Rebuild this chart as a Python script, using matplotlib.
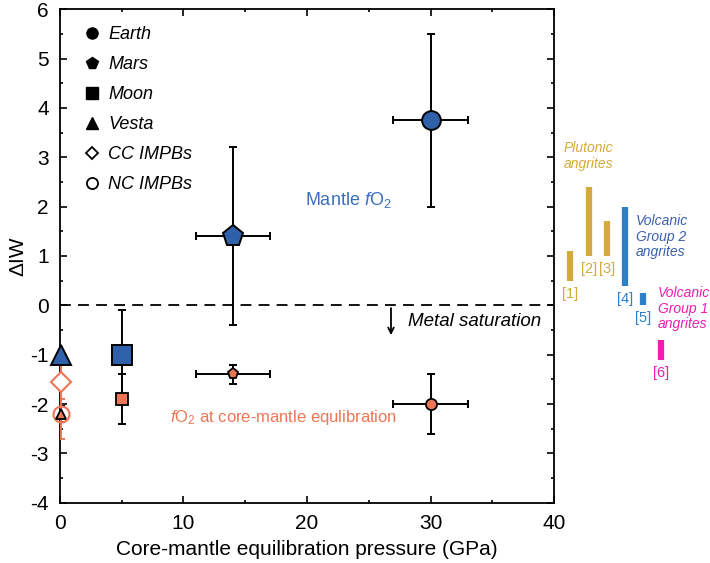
import matplotlib.pyplot as plt
from matplotlib.lines import Line2D

plt.rcParams['font.family'] = ['Liberation Sans', 'DejaVu Sans']
plt.rcParams['mathtext.fontset'] = 'custom'
plt.rcParams['mathtext.rm'] = 'Liberation Sans'
plt.rcParams['mathtext.it'] = 'Liberation Sans:italic'
plt.rcParams['axes.unicode_minus'] = False

# mantle fO2 of the bodies (blue)
bodies = ['Earth', 'Mars', 'Moon', 'Vesta']
body_markers = ['o', 'p', 's', '^']
mantle_p = [30, 14, 5, 0.1]
mantle_iw = [3.75, 1.4, -1.0, -1.0]
mantle_p_err = [3, 3, 0, 0]
mantle_iw_err = [1.75, 1.8, 0.9, 0]

# fO2 at core-mantle equilibration (orange)
cm_p = [30, 14, 5, 0.1]
cm_iw = [-2.0, -1.4, -1.9, -2.2]
cm_p_err = [3, 3, 0, 0]
cm_iw_err = [0.6, 0.2, 0.5, 0.17]

# iron meteorite parent bodies
impb_names = ['CC IMPBs', 'NC IMPBs']
impb_p = [0.1, 0.1]
impb_iw = [-1.55, -2.2]
impb_iw_err = [0.35, 0.5]

# angrite ranges shown right of the axes
angrite_labels = ['[1]', '[2]', '[3]', '[4]', '[5]', '[6]']
angrite_x = [41.3, 42.8, 44.3, 45.75, 47.2, 48.7]
angrite_lo = [0.5, 1.0, 1.0, 0.4, 0.0, -1.1]
angrite_hi = [1.1, 2.4, 1.7, 2.0, 0.25, -0.7]
angrite_group = [0, 0, 0, 1, 1, 2]

blue = '#2f61ab'
orange = '#ee7655'
gold = '#d4aa3a'
vblue = '#2f7fc8'
magenta = '#ee1cb0'
group_cols = [gold, vblue, magenta]

fig = plt.figure(figsize=(7.1, 5.63), dpi=100)
ax = fig.add_axes([0.0845, 0.1071, 0.6958, 0.8764])

ax.axhline(0, color='black', lw=1.3, dashes=(6, 4), zorder=1)

big = [13.5, 15.5, 14, 14]
small = [8, 8, 8.5, 7]
for i in range(4):
    ax.errorbar(mantle_p[i], mantle_iw[i], xerr=mantle_p_err[i] or None,
                yerr=mantle_iw_err[i] or None, fmt='none', ecolor='black',
                elinewidth=1.4, capsize=3, capthick=1.4, zorder=2)
    ax.errorbar(cm_p[i], cm_iw[i], xerr=cm_p_err[i] or None,
                yerr=cm_iw_err[i], fmt='none', ecolor='black',
                elinewidth=1.4, capsize=3, capthick=1.4, zorder=2)

for i in range(2):
    ax.errorbar(impb_p[i], impb_iw[i], yerr=impb_iw_err[i], fmt='none',
                ecolor=orange, elinewidth=1.4, capsize=3, capthick=1.4, zorder=3)
ax.plot(impb_p[1], impb_iw[1], 'o', ms=11.5, mfc='none', mec=orange, mew=1.5,
        zorder=4, clip_on=False)
ax.plot(impb_p[0], impb_iw[0], 'D', ms=10, mfc='white', mec=orange, mew=1.5,
        zorder=4, clip_on=False)

for i in range(4):
    ax.plot(mantle_p[i], mantle_iw[i], body_markers[i], ms=big[i], mfc=blue,
            mec='black', mew=1.4, zorder=5, clip_on=False)
    ax.plot(cm_p[i], cm_iw[i], body_markers[i], ms=small[i], mfc=orange,
            mec='black', mew=1.3, zorder=5, clip_on=False)

ax.annotate('', xy=(26.8, -0.66), xytext=(26.8, 0.0),
            arrowprops=dict(arrowstyle='->', color='black', lw=1.3))
ax.text(28.2, -0.33, 'Metal saturation', fontsize=13.5, style='italic', va='center')
ax.text(19.8, 2.13, r'Mantle $\mathit{f}\mathrm{O}_{2}$', fontsize=13, color='#3a6fc0',
        va='center')
ax.text(8.9, -2.28, r'$\mathit{f}\mathrm{O}_{2}$ at core-mantle equlibration', fontsize=12,
        color=orange, va='center')

for i in range(6):
    c = group_cols[angrite_group[i]]
    ax.plot([angrite_x[i], angrite_x[i]], [angrite_lo[i], angrite_hi[i]], color=c,
            lw=4.5, solid_capstyle='butt', clip_on=False)
    ax.text(angrite_x[i], angrite_lo[i] - 0.12, angrite_labels[i], color=c, fontsize=10.5,
            ha='center', va='top', clip_on=False)
ax.text(40.8, 3.03, 'Plutonic\nangrites', color=gold, fontsize=10, style='italic',
        va='center', linespacing=1.15)
ax.text(46.6, 1.39, 'Volcanic\nGroup 2\nangrites', color='#3a5fae', fontsize=10,
        style='italic', va='center', linespacing=1.15)
ax.text(48.4, -0.07, 'Volcanic\nGroup 1\nangrites', color=magenta, fontsize=10,
        style='italic', va='center', linespacing=1.15)

handles = [Line2D([], [], ls='none', marker=m, color='black', ms=8 if m != 'p' else 8.5)
           for m in body_markers]
handles += [Line2D([], [], ls='none', marker='D', mfc='white', mec='black', mew=1.3, ms=6),
            Line2D([], [], ls='none', marker='o', mfc='white', mec='black', mew=1.3, ms=8)]
leg = ax.legend(handles, bodies + impb_names, loc='upper left', frameon=False,
                prop={'style': 'italic', 'size': 13}, handletextpad=0.3,
                labelspacing=0.72, borderaxespad=0.3, handlelength=1.2,
                bbox_to_anchor=(0.017, 0.992))

ax.set_xlim(0, 40)
ax.set_ylim(-4, 6)
ax.set_xticks([0, 10, 20, 30, 40])
ax.set_xticks([5, 15, 25, 35], minor=True)
ax.set_yticks(range(-4, 7))
ax.set_yticks([y + 0.5 for y in range(-4, 6)], minor=True)
ax.tick_params(which='both', direction='in', top=True, right=True, labelsize=15, width=1.2)
ax.tick_params(which='major', length=5, pad=8)
ax.tick_params(which='minor', length=2.5)
for s in ax.spines.values():
    s.set_linewidth(1.3)
ax.set_xlabel('Core-mantle equilibration pressure (GPa)', fontsize=15, labelpad=5)
ax.set_ylabel('ΔIW', fontsize=15, labelpad=2)

fig.savefig('out.png', dpi=100)
